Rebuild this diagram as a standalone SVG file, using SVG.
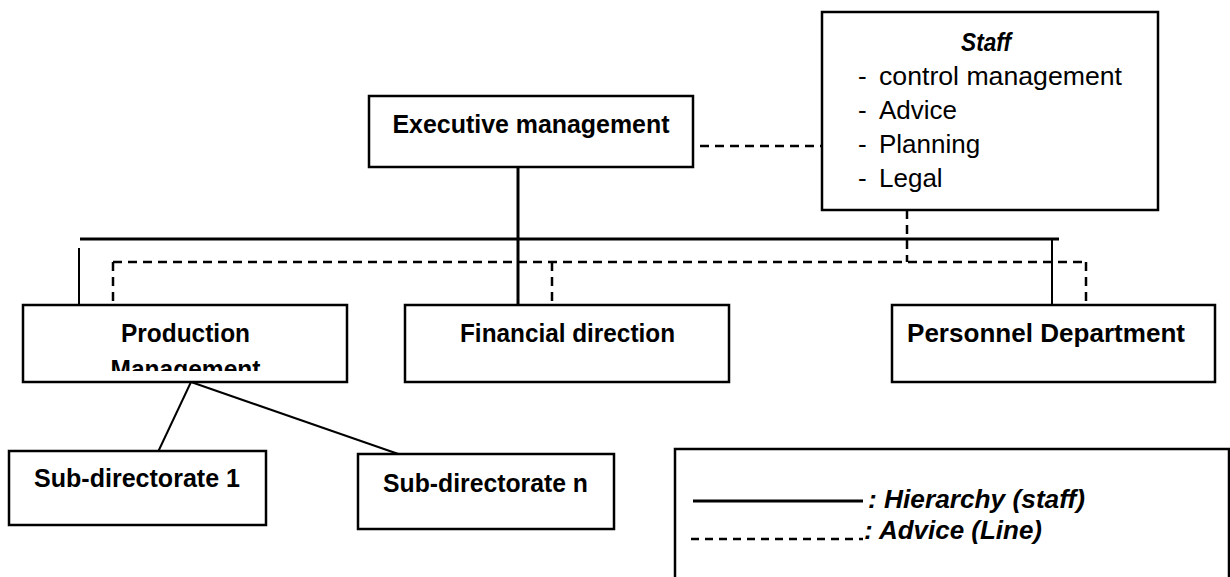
<svg xmlns="http://www.w3.org/2000/svg" width="1230" height="577" viewBox="0 0 1230 577">
<style>
.box{fill:#fff;stroke:#000;stroke-width:2.5}
.t{font-family:"Liberation Sans",Arial,sans-serif;font-size:25px;fill:#000}
.b{font-weight:bold}
.i{font-style:italic}
.r{font-size:26px}
.solid{stroke:#000;stroke-width:3;fill:none}
.thin{stroke:#000;stroke-width:2;fill:none}
.dash{stroke:#000;stroke-width:2.5;stroke-dasharray:9 6;fill:none}
</style>
<defs>
<clipPath id="clipProd"><rect x="23" y="305" width="324" height="66"/></clipPath>
</defs>
<rect width="1230" height="577" fill="#fff"/>
<g id="connectors">
<line class="solid" x1="518" y1="167" x2="518" y2="305"/>
<line class="solid" x1="80" y1="239" x2="1059" y2="239"/>
<line class="thin" x1="79" y1="248" x2="79" y2="317"/>
<line class="thin" x1="1052" y1="239" x2="1052" y2="305"/>
<line class="dash" x1="700" y1="146" x2="822" y2="146"/>
<line class="dash" x1="907" y1="210" x2="907" y2="262"/>
<line class="dash" x1="113" y1="262" x2="1086" y2="262"/>
<line class="dash" x1="113" y1="262" x2="113" y2="310"/>
<line class="dash" x1="552" y1="262" x2="552" y2="305"/>
<line class="dash" x1="1086" y1="262" x2="1086" y2="305"/>
<line class="thin" x1="191" y1="382" x2="158" y2="452"/>
<line class="thin" x1="191" y1="382" x2="407" y2="457"/>
</g>
<g id="exec">
<rect class="box" x="369" y="96" width="324" height="71"/>
<text class="t b" x="531" y="133" text-anchor="middle" textLength="277" lengthAdjust="spacingAndGlyphs">Executive management</text>
</g>
<g id="staff">
<rect class="box" x="822" y="12" width="336" height="198"/>
<text class="t b i" x="986" y="51" text-anchor="middle" textLength="50" lengthAdjust="spacingAndGlyphs">Staff</text>
<text class="t r" x="858" y="85">-</text><text class="t r" x="879" y="85" textLength="243" lengthAdjust="spacingAndGlyphs">control management</text>
<text class="t r" x="858" y="119">-</text><text class="t r" x="879" y="119">Advice</text>
<text class="t r" x="858" y="153">-</text><text class="t r" x="879" y="153">Planning</text>
<text class="t r" x="858" y="187">-</text><text class="t r" x="879" y="187">Legal</text>
</g>
<g id="production">
<rect class="box" x="23" y="305" width="324" height="77"/>
<text class="t b" x="185.5" y="342" text-anchor="middle" textLength="129" lengthAdjust="spacingAndGlyphs">Production</text>
<text class="t b" x="185.5" y="378" text-anchor="middle" clip-path="url(#clipProd)" textLength="150" lengthAdjust="spacingAndGlyphs">Management</text>
</g>
<g id="financial">
<rect class="box" x="405" y="305" width="324" height="77"/>
<text class="t b" x="567.5" y="342" text-anchor="middle" textLength="215" lengthAdjust="spacingAndGlyphs">Financial direction</text>
</g>
<g id="personnel">
<rect class="box" x="892" y="305" width="323" height="77"/>
<text class="t b" x="1046" y="342" text-anchor="middle" textLength="278" lengthAdjust="spacingAndGlyphs">Personnel Department</text>
</g>
<g id="sub1">
<rect class="box" x="9" y="451" width="257" height="74"/>
<text class="t b" x="137" y="487" text-anchor="middle" textLength="206" lengthAdjust="spacingAndGlyphs">Sub-directorate 1</text>
</g>
<g id="subn">
<rect class="box" x="358" y="454" width="256" height="75"/>
<text class="t b" x="485.5" y="492" text-anchor="middle" textLength="205" lengthAdjust="spacingAndGlyphs">Sub-directorate n</text>
</g>
<g id="legend">
<rect class="box" x="675" y="449" width="554" height="150"/>
<line class="solid" x1="693" y1="501" x2="863" y2="501"/>
<line class="dash" x1="691" y1="539" x2="863" y2="539" style="stroke-dasharray:8 6"/>
<text class="t b i" x="868" y="508" textLength="217" lengthAdjust="spacingAndGlyphs">: Hierarchy (staff)</text>
<text class="t b i" x="864" y="539" textLength="178" lengthAdjust="spacingAndGlyphs">: Advice (Line)</text>
</g>
</svg>
